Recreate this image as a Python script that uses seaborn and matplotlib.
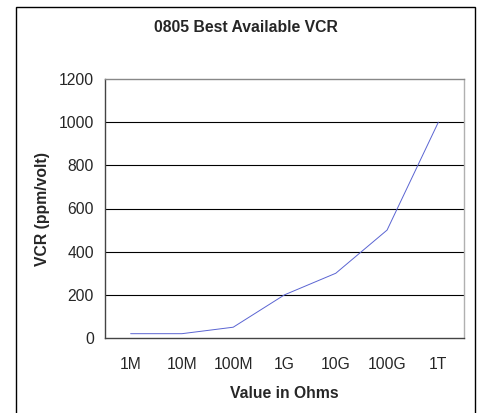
import matplotlib
matplotlib.use("Agg")
import matplotlib.pyplot as plt
import seaborn as sns
import pandas as pd
from matplotlib.patches import Rectangle

categories = ["1M", "10M", "100M", "1G", "10G", "100G", "1T"]
vcr_values = [20, 20, 50, 200, 300, 500, 1000]
y_ticks = [0, 200, 400, 600, 800, 1000, 1200]

sns.set_style("white")
plt.rcParams['font.family'] = ['Liberation Sans', 'DejaVu Sans']

df = pd.DataFrame({"Value": categories, "VCR": vcr_values})

fig = plt.figure(figsize=(4.84, 4.13), dpi=100)
ax = fig.add_axes([105/484, 75/413, (464-105)/484, (338-79)/413])

sns.lineplot(data=df, x="Value", y="VCR", ax=ax, color="#5a64d2", linewidth=0.7, sort=False)

ax.set_xlim(-0.5, len(categories) - 0.5)
ax.set_ylim(0, 1200)
ax.set_yticks(y_ticks)
ax.set_yticklabels([str(v) for v in y_ticks], fontsize=11.3)
ax.set_xticks(range(len(categories)))
ax.set_xticklabels(categories, fontsize=11.3)
ax.set_xticks([i - 0.5 for i in range(len(categories) + 1)], minor=True)
ax.tick_params(axis='x', which='major', length=0, pad=14)
ax.tick_params(axis='x', which='minor', length=5, width=1, color='#333333', direction='out')
ax.tick_params(axis='y', which='major', length=5, width=1, color='#333333', direction='out', pad=3)

for v in y_ticks[1:-1]:
    ax.axhline(v, color='black', linewidth=0.8, zorder=0)

for side in ['left', 'bottom']:
    ax.spines[side].set_color('#444444')
    ax.spines[side].set_linewidth(1.0)
ax.spines['top'].set_color('#888888')
ax.spines['top'].set_linewidth(1.0)
ax.spines['right'].set_color('#b0b0b0')
ax.spines['right'].set_linewidth(1.0)
for s in ax.spines.values():
    s.set_visible(True)

ax.set_xlabel("Value in Ohms", fontsize=11.3, fontweight='bold', labelpad=10)
ax.set_ylabel("VCR (ppm/volt)", fontsize=11.3, fontweight='bold', labelpad=6)
fig.text((16 + 475) / 2 / 484, 1 - 28/413, "0805 Best Available VCR", ha='center', va='center',
         fontsize=11.3, fontweight='bold')

fig.patches.append(Rectangle((16/484, -0.05), (475-16)/484, 1.05 - 7/413,
                             transform=fig.transFigure, fill=False, edgecolor='black', linewidth=1.0))

fig.savefig("out.png", dpi=100)
